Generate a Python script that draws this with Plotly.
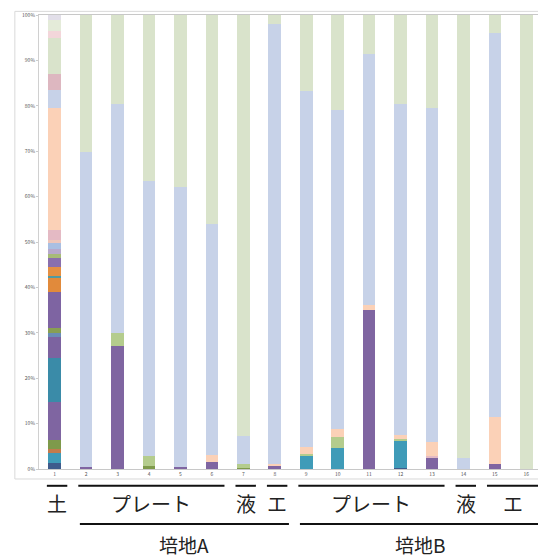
import plotly.graph_objects as go

categories = [str(i) for i in range(1, 17)]

# series values (percent) per sample 1..16, stacked bottom -> top
s01 = [1.3, 0, 0, 0, 0, 0, 0, 0, 0, 0, 0, 0.3, 0, 0, 0, 0]
s02 = [2.2, 0, 0, 0, 0, 0, 0, 0, 2.8, 4.6, 0, 6.0, 0, 0, 0, 0]
s03 = [1.0, 0, 0, 0, 0, 0, 0, 0, 0, 0, 0, 0, 0, 0, 0, 0]
s04 = [1.8, 0, 0, 0.6, 0, 0, 0.3, 0, 0, 0, 0, 0, 0, 0, 0, 0]
s05 = [8.4, 0.5, 27.0, 0, 0.5, 1.5, 0, 0.8, 0, 0, 35.0, 0, 2.6, 0, 1.0, 0]
s06 = [9.8, 0, 0, 0, 0, 0, 0, 0, 0, 0, 0, 0, 0, 0, 0, 0]
s07 = [4.5, 0, 0, 0, 0, 0, 0, 0, 0, 0, 0, 0, 0, 0, 0, 0]
s08 = [1.0, 0, 0, 0, 0, 0, 0, 0, 0, 0, 0, 0, 0, 0, 0, 0]
s09 = [1.0, 0, 0, 0, 0, 0, 0, 0, 0, 0, 0, 0, 0, 0, 0, 0]
s10 = [8.0, 0, 0, 0, 0, 0, 0, 0, 0, 0, 0, 0, 0, 0, 0, 0]
s11 = [3.0, 0, 0, 0, 0, 0, 0, 0, 0, 0, 0, 0, 0, 0, 0, 0]
s12 = [0.5, 0, 0, 0, 0, 0, 0, 0, 0, 0, 0, 0, 0, 0, 0, 0]
s13 = [2.0, 0, 0, 0, 0, 0, 0, 0, 0, 0, 0, 0, 0, 0, 0, 0]
s14 = [2.0, 0, 0, 0, 0, 0, 0, 0, 0, 0, 0, 0, 0, 0, 0, 0]
s15 = [0.8, 0, 0, 0, 0, 0, 0, 0, 0, 0, 0, 0, 0, 0, 0, 0]
s16 = [1.1, 0, 0, 0, 0, 0, 0, 0, 0, 0, 0, 0, 0, 0, 0, 0]
s17 = [1.3, 0, 0, 0, 0, 0, 0, 0, 0, 0, 0, 0, 0, 0, 0, 0]
s18 = [0.8, 0, 0, 0, 0, 0, 0, 0, 0, 0, 0, 0, 0, 0, 0, 0]
s19 = [2.2, 0, 0, 0, 0, 0, 0, 0, 0, 0, 0, 0, 0.3, 0, 0, 0]
s20 = [0, 0, 3.0, 2.3, 0, 0, 0.7, 0, 0.6, 2.4, 0, 0.3, 0, 0, 0, 0]
s21 = [26.8, 0, 0, 0, 0, 1.5, 0, 0.4, 1.5, 1.8, 1.1, 0.9, 3.0, 0, 10.4, 0]
s22 = [3.9, 69.3, 50.3, 60.6, 61.6, 51.0, 6.3, 96.8, 78.4, 70.2, 55.4, 72.8, 73.6, 2.4, 84.6, 0]
s23 = [3.6, 0, 0, 0, 0, 0, 0, 0, 0, 0, 0, 0, 0, 0, 0, 0]
s24 = [8.0, 30.2, 19.7, 36.5, 37.9, 46.0, 92.7, 2.0, 16.7, 21.0, 8.5, 19.7, 20.5, 97.6, 4.0, 100]
s25 = [1.5, 0, 0, 0, 0, 0, 0, 0, 0, 0, 0, 0, 0, 0, 0, 0]
s26 = [2.5, 0, 0, 0, 0, 0, 0, 0, 0, 0, 0, 0, 0, 0, 0, 0]
s27 = [1.0, 0, 0, 0, 0, 0, 0, 0, 0, 0, 0, 0, 0, 0, 0, 0]

series = [s01, s02, s03, s04, s05, s06, s07, s08, s09, s10, s11, s12, s13, s14,
          s15, s16, s17, s18, s19, s20, s21, s22, s23, s24, s25, s26, s27]
colors = ["#3e5b8c", "#3f9bb8", "#c27b4c", "#7e9a4b", "#7f65a1", "#3a8ba8", "#7c63a0",
          "#6a8db5", "#889f52", "#7e64a2", "#e18a3b", "#4f9aa3", "#e58f42", "#8a6fad",
          "#a7bb78", "#b7a9cc", "#a9bfe2", "#eec6bb", "#e4bac4", "#b4cc8d", "#fbd1b7",
          "#c7d2e8", "#ddb7c0", "#d9e3cb", "#f3d6da", "#e4ebd9", "#e2dfe9"]

ytick_vals = list(range(0, 101, 10))
ytick_text = [f"{v}%" for v in ytick_vals]

# group labels: (label, first index, last index)
sub_groups = [("土", 0, 0), ("プレート", 1, 5), ("液", 6, 6), ("エ", 7, 7),
              ("プレート", 8, 12), ("液", 13, 13), ("エ", 14, 15)]
main_groups = [("培地A", 1, 7), ("培地B", 8, 15)]

fig = go.Figure()
for i, (vals, col) in enumerate(zip(series, colors)):
    fig.add_trace(go.Bar(x=categories, y=vals, name=f"S{i+1}", marker_color=col,
                         marker_line_width=0, showlegend=False))

# page body has an 8px margin, so the figure is 8px smaller than the window
fig.update_layout(
    barmode="stack",
    bargap=0.6,
    width=538, height=552,
    margin=dict(l=31, r=3, t=4, b=91),
    paper_bgcolor="white", plot_bgcolor="white",
    font=dict(family="Noto Sans CJK JP, Noto Sans, sans-serif"),
)
fig.update_yaxes(range=[0, 100], tickvals=ytick_vals, ticktext=ytick_text,
                 tickfont=dict(size=5, color="#555"), showgrid=False,
                 showline=True, linecolor="#d0d0d0", mirror=True,
                 ticks="outside", ticklen=2, tickcolor="#ccc", zeroline=False,
                 ticklabeloverflow="allow")
fig.update_xaxes(type="category", tickfont=dict(size=5, color="#555"),
                 showline=True, linecolor="#c8c8c8", mirror=True,
                 ticks="", showgrid=False)

shapes = []
annotations = []
# outer chart frame
shapes.append(dict(type="rect", xref="paper", yref="paper", x0=-0.048, x1=1.01,
                   y0=-0.022, y1=1.008, line=dict(color="#d9d9d9", width=1)))
for label, a, b in sub_groups:
    x0, x1 = a - 0.25, b + 0.4
    shapes.append(dict(type="line", xref="x", yref="paper", x0=x0, x1=x1,
                       y0=-0.037, y1=-0.037, line=dict(color="#111", width=2)))
    annotations.append(dict(text=label, xref="x", yref="paper", x=(x0 + x1) / 2,
                            y=-0.077, showarrow=False, yanchor="middle",
                            font=dict(size=20, color="#222",
                                      family="Noto Sans CJK JP")))
for label, a, b in main_groups:
    x0, x1 = a - 0.2, b + 0.45
    shapes.append(dict(type="line", xref="x", yref="paper", x0=x0, x1=x1,
                       y0=-0.121, y1=-0.121, line=dict(color="#111", width=2)))
    annotations.append(dict(text=label, xref="x", yref="paper", x=(x0 + x1) / 2,
                            y=-0.1663, showarrow=False, yanchor="middle",
                            font=dict(size=19, color="#222",
                                      family="Noto Sans CJK JP")))
fig.update_layout(shapes=shapes, annotations=annotations)

fig.write_html("out.html")
